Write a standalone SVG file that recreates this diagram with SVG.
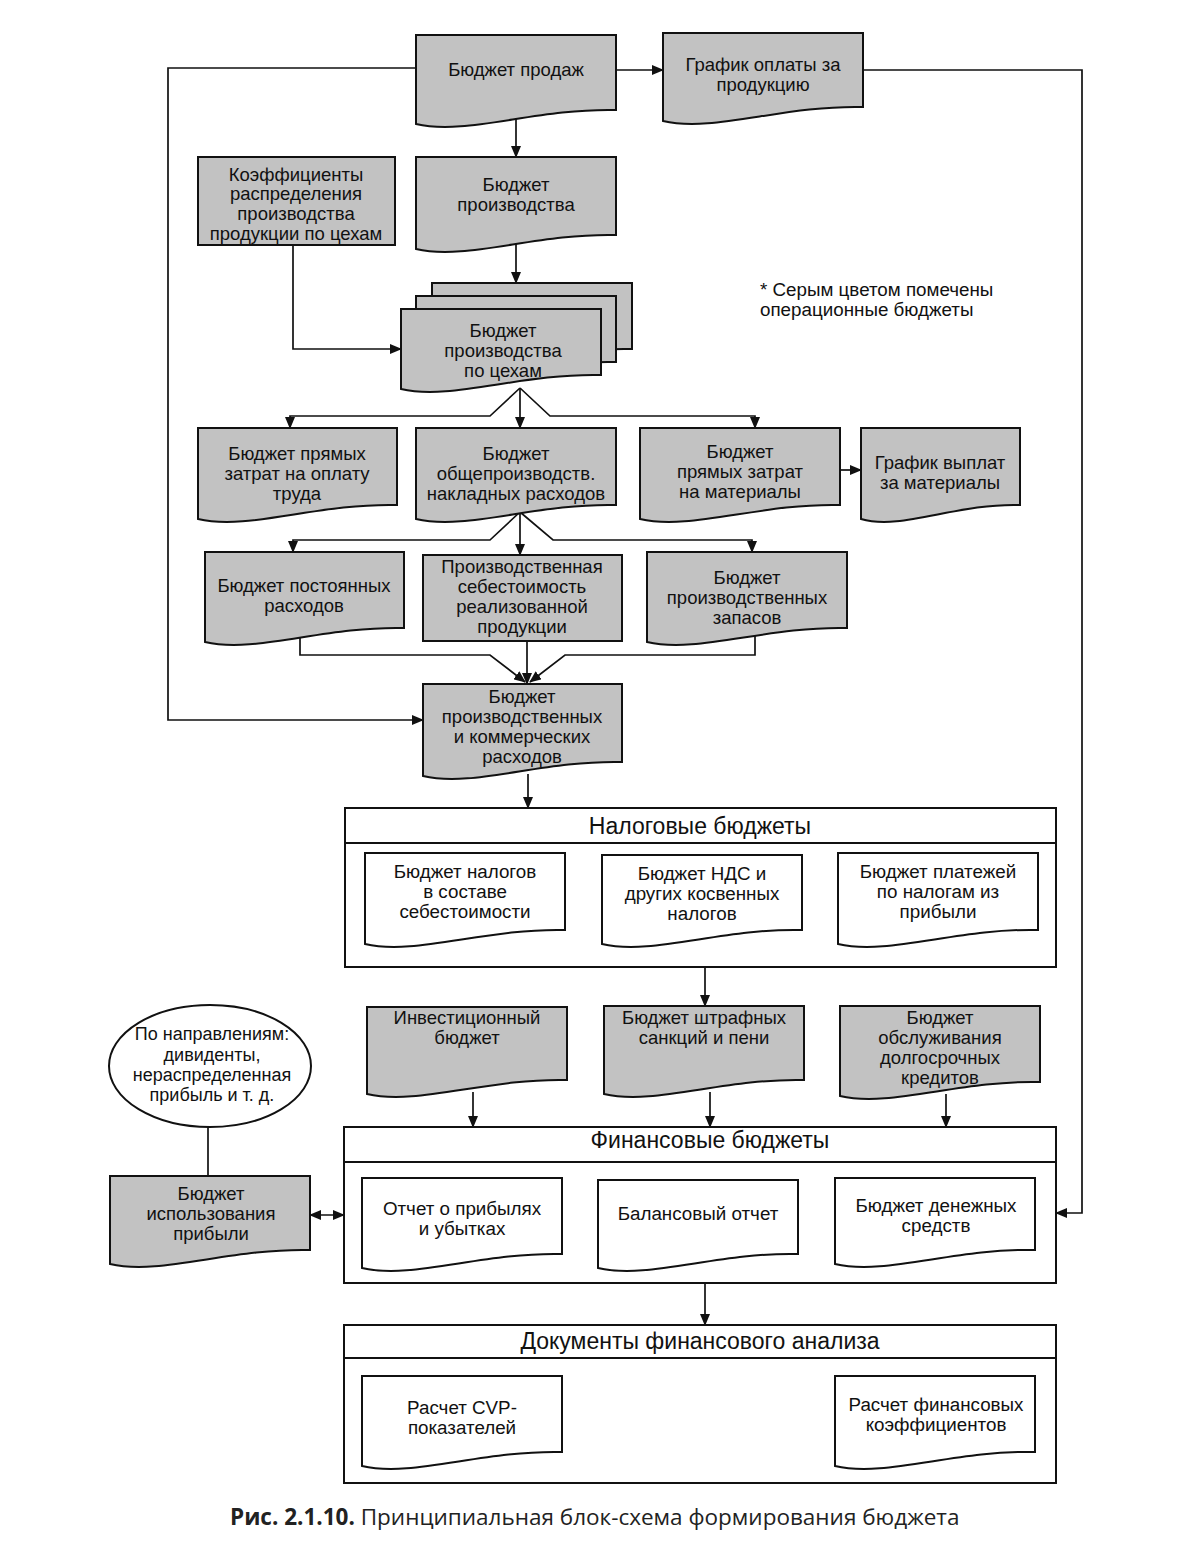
<svg xmlns="http://www.w3.org/2000/svg" width="1189" height="1557" viewBox="0 0 1189 1557">
<style>
.g{fill:#c2c2c2;stroke:#111;stroke-width:2}
.w{fill:#fff;stroke:#111;stroke-width:2}
.c{fill:none;stroke:#111;stroke-width:1.7}
.t{font-family:"Liberation Sans",Arial,sans-serif;font-size:18.5px;fill:#111;text-anchor:middle}
.s{font-family:"Liberation Sans",Arial,sans-serif;font-size:18.8px;fill:#111;text-anchor:middle}
.e{font-family:"Liberation Sans",Arial,sans-serif;font-size:18px;fill:#111;text-anchor:middle}
.h{font-family:"Liberation Sans",Arial,sans-serif;font-size:23px;fill:#111;text-anchor:middle}
.n{font-family:"Liberation Sans",Arial,sans-serif;font-size:18.8px;fill:#111}
</style>
<defs>
<marker id="a" markerUnits="userSpaceOnUse" markerWidth="12" markerHeight="10" refX="11" refY="5" orient="auto">
<path d="M0 0 L12 5 L0 10 Z" fill="#111"/>
</marker>
<marker id="b" markerUnits="userSpaceOnUse" markerWidth="12" markerHeight="10" refX="1" refY="5" orient="auto">
<path d="M12 0 L0 5 L12 10 Z" fill="#111"/>
</marker>
</defs>
<rect width="1189" height="1557" fill="#fff"/>

<g id="connectors">
<line class="c" x1="616" y1="70" x2="663" y2="70" marker-end="url(#a)"/>
<polyline class="c" points="863,70 1082,70 1082,1213 1056,1213" marker-end="url(#a)"/>
<polyline class="c" points="416,68 168,68 168,720 423,720" marker-end="url(#a)"/>
<line class="c" x1="516" y1="118" x2="516" y2="157" marker-end="url(#a)"/>
<line class="c" x1="516" y1="242" x2="516" y2="283" marker-end="url(#a)"/>
<polyline class="c" points="293,245 293,349 401,349" marker-end="url(#a)"/>
<line class="c" x1="520" y1="388" x2="520" y2="428" marker-end="url(#a)"/>
<polyline class="c" points="520,388 490,416 290,416 290,428" marker-end="url(#a)"/>
<polyline class="c" points="520,388 550,416 755,416 755,428" marker-end="url(#a)"/>
<line class="c" x1="840" y1="470" x2="861" y2="470" marker-end="url(#a)"/>
<line class="c" x1="520" y1="512" x2="520" y2="555" marker-end="url(#a)"/>
<polyline class="c" points="520,512 490,540 293,540 293,552" marker-end="url(#a)"/>
<polyline class="c" points="520,512 553,540 752,540 752,552" marker-end="url(#a)"/>
<polyline class="c" points="300,636 300,655 490,655 525,682" marker-end="url(#a)"/>
<line class="c" x1="527" y1="641" x2="527" y2="684" marker-end="url(#a)"/>
<polyline class="c" points="755,636 755,655 565,655 530,682" marker-end="url(#a)"/>
<line class="c" x1="528" y1="774" x2="528" y2="808" marker-end="url(#a)"/>
<line class="c" x1="705" y1="967" x2="705" y2="1006" marker-end="url(#a)"/>
<line class="c" x1="473" y1="1092" x2="473" y2="1127" marker-end="url(#a)"/>
<line class="c" x1="710" y1="1092" x2="710" y2="1127" marker-end="url(#a)"/>
<line class="c" x1="946" y1="1094" x2="946" y2="1127" marker-end="url(#a)"/>
<line class="c" x1="208" y1="1127" x2="208" y2="1176"/>
<line class="c" x1="310" y1="1215" x2="344" y2="1215" marker-start="url(#b)" marker-end="url(#a)"/>
<line class="c" x1="705" y1="1283" x2="705" y2="1325" marker-end="url(#a)"/>
</g>

<g id="sales">
<path class="g" d="M416 35 H616 V110 C536 108 466 136 416 124 Z"/>
<text class="t" x="516" y="76">Бюджет продаж</text>
</g>
<g id="payment-schedule">
<path class="g" d="M663 33 H863 V107 C783 105 713 133 663 121 Z"/>
<text class="t" x="763" y="71">График оплаты за</text>
<text class="t" x="763" y="91">продукцию</text>
</g>
<g id="coefficients">
<rect class="g" x="198" y="157" width="197" height="88"/>
<text class="t" x="296" y="181">Коэффициенты</text>
<text class="t" x="296" y="200">распределения</text>
<text class="t" x="296" y="220">производства</text>
<text class="t" x="296" y="240">продукции по цехам</text>
</g>
<g id="production">
<path class="g" d="M416 157 H616 V235 C536 233 466 261 416 249 Z"/>
<text class="t" x="516" y="191">Бюджет</text>
<text class="t" x="516" y="211">производства</text>
</g>
<g id="production-shops">
<path class="g" d="M432 283 H632 V349 C552 347 482 375 432 363 Z"/>
<path class="g" d="M416 296 H616 V362 C536 360 466 388 416 376 Z"/>
<path class="g" d="M401 309 H601 V375 C521 373 451 401 401 389 Z"/>
<text class="t" x="503" y="337">Бюджет</text>
<text class="t" x="503" y="357">производства</text>
<text class="t" x="503" y="377">по цехам</text>
</g>
<g id="labor">
<path class="g" d="M198 428 H397 V505 C317 503 248 531 198 519 Z"/>
<text class="t" x="297" y="460">Бюджет прямых</text>
<text class="t" x="297" y="480">затрат на оплату</text>
<text class="t" x="297" y="500">труда</text>
</g>
<g id="overhead">
<path class="g" d="M416 428 H616 V505 C536 503 466 531 416 519 Z"/>
<text class="t" x="516" y="460">Бюджет</text>
<text class="t" x="516" y="480">общепроизводств.</text>
<text class="t" x="516" y="500">накладных расходов</text>
</g>
<g id="materials">
<path class="g" d="M640 428 H840 V505 C760 503 690 531 640 519 Z"/>
<text class="t" x="740" y="458">Бюджет</text>
<text class="t" x="740" y="478">прямых затрат</text>
<text class="t" x="740" y="498">на материалы</text>
</g>
<g id="materials-schedule">
<path class="g" d="M861 428 H1020 V505 C956 503 901 531 861 519 Z"/>
<text class="t" x="940" y="469">График выплат</text>
<text class="t" x="940" y="489">за материалы</text>
</g>
<g id="fixed">
<path class="g" d="M205 552 H404 V628 C324 626 255 654 205 642 Z"/>
<text class="t" x="304" y="592">Бюджет постоянных</text>
<text class="t" x="304" y="612">расходов</text>
</g>
<g id="cost">
<rect class="g" x="423" y="555" width="199" height="86"/>
<text class="t" x="522" y="573">Производственная</text>
<text class="t" x="522" y="593">себестоимость</text>
<text class="t" x="522" y="613">реализованной</text>
<text class="t" x="522" y="633">продукции</text>
</g>
<g id="inventory">
<path class="g" d="M647 552 H847 V628 C767 626 697 654 647 642 Z"/>
<text class="t" x="747" y="584">Бюджет</text>
<text class="t" x="747" y="604">производственных</text>
<text class="t" x="747" y="624">запасов</text>
</g>
<g id="prod-commercial">
<path class="g" d="M423 684 H622 V762 C542 760 473 788 423 776 Z"/>
<text class="t" x="522" y="703">Бюджет</text>
<text class="t" x="522" y="723">производственных</text>
<text class="t" x="522" y="743">и коммерческих</text>
<text class="t" x="522" y="763">расходов</text>
</g>

<g id="note">
<text class="n" x="760" y="296">* Серым цветом помечены</text>
<text class="n" x="760" y="316">операционные бюджеты</text>
</g>

<g id="tax-budgets">
<rect class="w" x="345" y="808" width="711" height="159"/>
<line class="c" x1="345" y1="843" x2="1056" y2="843" style="stroke-width:2"/>
<text class="h" x="700" y="834">Налоговые бюджеты</text>
</g>
<g id="tax-cost">
<path class="w" d="M365 853 H565 V930 C485 928 415 956 365 944 Z"/>
<text class="s" x="465" y="878">Бюджет налогов</text>
<text class="s" x="465" y="898">в составе</text>
<text class="s" x="465" y="918">себестоимости</text>
</g>
<g id="tax-vat">
<path class="w" d="M602 855 H802 V930 C722 928 652 956 602 944 Z"/>
<text class="s" x="702" y="880">Бюджет НДС и</text>
<text class="s" x="702" y="900">других косвенных</text>
<text class="s" x="702" y="920">налогов</text>
</g>
<g id="tax-profit">
<path class="w" d="M838 853 H1038 V930 C958 928 888 956 838 944 Z"/>
<text class="s" x="938" y="878">Бюджет платежей</text>
<text class="s" x="938" y="898">по налогам из</text>
<text class="s" x="938" y="918">прибыли</text>
</g>

<g id="investment">
<path class="g" d="M367 1007 H567 V1080 C487 1078 417 1106 367 1094 Z"/>
<text class="t" x="467" y="1024">Инвестиционный</text>
<text class="t" x="467" y="1044">бюджет</text>
</g>
<g id="penalties">
<path class="g" d="M604 1006 H804 V1080 C724 1078 654 1106 604 1094 Z"/>
<text class="t" x="704" y="1024">Бюджет штрафных</text>
<text class="t" x="704" y="1044">санкций и пени</text>
</g>
<g id="credits">
<path class="g" d="M840 1006 H1040 V1082 C960 1080 890 1108 840 1096 Z"/>
<text class="t" x="940" y="1024">Бюджет</text>
<text class="t" x="940" y="1044">обслуживания</text>
<text class="t" x="940" y="1064">долгосрочных</text>
<text class="t" x="940" y="1084">кредитов</text>
</g>

<g id="directions">
<ellipse cx="210" cy="1066" rx="101" ry="61" fill="#fff" stroke="#111" stroke-width="2"/>
<text class="e" x="212" y="1040">По направлениям:</text>
<text class="e" x="212" y="1061">дивиденты,</text>
<text class="e" x="212" y="1081">нераспределенная</text>
<text class="e" x="212" y="1101">прибыль и т. д.</text>
</g>
<g id="profit-use">
<path class="g" d="M110 1176 H310 V1250 C230 1248 160 1276 110 1264 Z"/>
<text class="t" x="211" y="1200">Бюджет</text>
<text class="t" x="211" y="1220">использования</text>
<text class="t" x="211" y="1240">прибыли</text>
</g>

<g id="financial-budgets">
<rect class="w" x="344" y="1127" width="712" height="156"/>
<line class="c" x1="344" y1="1162" x2="1056" y2="1162" style="stroke-width:2"/>
<text class="h" x="710" y="1148">Финансовые бюджеты</text>
</g>
<g id="income-statement">
<path class="w" d="M362 1178 H562 V1254 C482 1252 412 1280 362 1268 Z"/>
<text class="s" x="462" y="1215">Отчет о прибылях</text>
<text class="s" x="462" y="1235">и убытках</text>
</g>
<g id="balance">
<path class="w" d="M598 1180 H798 V1254 C718 1252 648 1280 598 1268 Z"/>
<text class="s" x="698" y="1220">Балансовый отчет</text>
</g>
<g id="cash">
<path class="w" d="M835 1178 H1035 V1250 C955 1248 885 1276 835 1264 Z"/>
<text class="s" x="936" y="1212">Бюджет денежных</text>
<text class="s" x="936" y="1232">средств</text>
</g>

<g id="analysis-docs">
<rect class="w" x="344" y="1325" width="712" height="158"/>
<line class="c" x1="344" y1="1358" x2="1056" y2="1358" style="stroke-width:2"/>
<text class="h" x="700" y="1349">Документы финансового анализа</text>
</g>
<g id="cvp">
<path class="w" d="M362 1376 H562 V1452 C482 1450 412 1478 362 1466 Z"/>
<text class="s" x="462" y="1414">Расчет CVP-</text>
<text class="s" x="462" y="1434">показателей</text>
</g>
<g id="ratios">
<path class="w" d="M835 1376 H1035 V1452 C955 1450 885 1478 835 1466 Z"/>
<text class="s" x="936" y="1411">Расчет финансовых</text>
<text class="s" x="936" y="1431">коэффициентов</text>
</g>

<g id="caption">
<text x="230" y="1525" style="font-family:'Open Sans','Liberation Sans',sans-serif;font-size:22.5px;fill:#222"><tspan font-weight="bold">Рис. 2.1.10.</tspan> Принципиальная блок-схема формирования бюджета</text>
</g>
</svg>
